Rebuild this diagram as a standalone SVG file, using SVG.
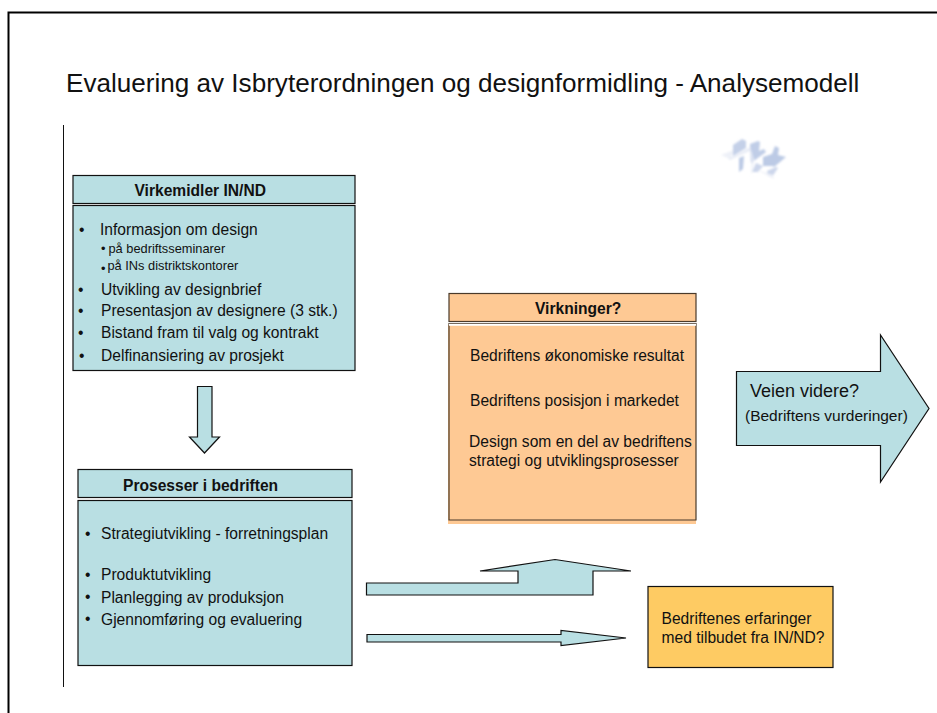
<svg xmlns="http://www.w3.org/2000/svg" width="937" height="713" viewBox="0 0 937 713">
<defs>
<style>
text{font-family:"Liberation Sans",Arial,sans-serif;fill:#111}
.t{font-size:15.6px}
.s{font-size:12.8px}
.b{font-size:15.6px;font-weight:bold}
.blue{fill:#b9dfe3;stroke:#111;stroke-width:1.2}
.orange{fill:#fec994;stroke:#4a3a2a;stroke-width:1.2}
</style>
<filter id="blur" x="-20%" y="-20%" width="140%" height="140%"><feGaussianBlur stdDeviation="0.8"/></filter>
</defs>
<rect width="937" height="713" fill="#fff"/>
<path d="M937 12.500H8.500V713" fill="none" stroke="#000" stroke-width="2"/>
<path d="M63.500 125V687" fill="none" stroke="#111" stroke-width="1"/>
<text x="66" y="92" style="font-size:26.100px">Evaluering av Isbryterordningen og designformidling - Analysemodell</text>
<g id="logo" filter="url(#blur)">
<path d="M721 155l15-6-6 10z" fill="#eef1f8"/>
<path d="M730 160l28-13-4-2-26 14z" fill="#e8ecf6"/>
<path d="M733 145l9-6 4 2v7l-13 8z" fill="#c4d0e8"/>
<path d="M750 144l8-3 2 1-1 9 5-2 2 3-15 11z" fill="#c0cde7"/>
<path d="M763 157l9-3 3-8 4 2-1 7 8 2-12 10-1-1-10 0z" fill="#bccae5"/>
<path d="M739 158l5-2-1 13-4 3z" fill="#bccae5"/>
<path d="M752 172l4-9 7 3-5 6z" fill="#ccd6eb"/>
<path d="M767 171l9-4 2 1-6 9-4-1z" fill="#ccd6eb"/>
<path d="M750 146l2 14-1 16 3-16z" fill="#e8ecf6"/>
<path d="M757 170l17 9-1-4z" fill="#eef1f8"/>
</g>
<g id="virkemidler-head"><rect class="blue" x="73" y="175.500" width="282" height="28"/><text class="b" x="134.500" y="196">Virkemidler IN/ND</text></g>
<g id="virkemidler-body"><rect class="blue" x="73" y="205.500" width="282" height="165"/>
<text class="t" x="79" y="235">•</text><text class="t" x="100" y="235">Informasjon om design</text>
<text class="s" x="101" y="253">•</text><text class="s" x="108.500" y="253">på bedriftsseminarer</text>
<text class="s" x="101" y="273">•</text><text class="s" x="107.500" y="270">på INs distriktskontorer</text>
<text class="t" x="78" y="295">•</text><text class="t" x="101" y="295">Utvikling av designbrief</text>
<text class="t" x="78" y="316">•</text><text class="t" x="101" y="316">Presentasjon av designere (3 stk.)</text>
<text class="t" x="78" y="338">•</text><text class="t" x="101" y="338">Bistand fram til valg og kontrakt</text>
<text class="t" x="79" y="361">•</text><text class="t" x="101" y="361">Delfinansiering av prosjekt</text></g>
<g id="prosesser-head"><rect class="blue" x="78" y="469.500" width="274" height="28"/><text class="b" x="123" y="491">Prosesser i bedriften</text></g>
<g id="prosesser-body"><rect class="blue" x="78" y="500.500" width="274" height="165"/>
<text class="t" x="85" y="539">•</text><text class="t" x="101" y="539">Strategiutvikling - forretningsplan</text>
<text class="t" x="85" y="580">•</text><text class="t" x="101" y="580">Produktutvikling</text>
<text class="t" x="85" y="602">•</text><text class="t" x="101" y="603">Planlegging av produksjon</text>
<text class="t" x="85" y="624">•</text><text class="t" x="101" y="624.500">Gjennomføring og evaluering</text></g>
<g id="virkninger-head"><rect class="orange" x="449" y="293.500" width="247" height="28"/><text class="b" x="535" y="314">Virkninger?</text></g>
<g id="virkninger-body"><rect x="448" y="325" width="248" height="199" fill="#fec994"/><path class="orange" d="M449 323.500H696V520H449Z"/><path d="M449 324.800H696" stroke="#fff" stroke-width="2"/>
<text class="t" x="470" y="361">Bedriftens økonomiske resultat</text>
<text class="t" x="470" y="406">Bedriftens posisjon i markedet</text>
<text class="t" x="469" y="447">Design som en del av bedriftens</text>
<text class="t" x="469" y="466">strategi og utviklingsprosesser</text></g>
<g id="veien-videre"><path class="blue" d="M736.500 371.500H880.500V335L929 408.500L880.500 482V445.500H736.500Z"/>
<text x="750" y="397" style="font-size:18px">Veien videre?</text>
<text x="745" y="421" style="font-size:15.500px">(Bedriftens vurderinger)</text></g>
<g id="erfaringer"><rect x="648" y="586.500" width="185" height="81" fill="#fecb63" stroke="#111" stroke-width="1.200"/>
<text class="t" x="661.500" y="624">Bedriftenes erfaringer</text>
<text class="t" x="661.500" y="643">med tilbudet fra IN/ND?</text></g>
<g id="connectors">
<path class="blue" d="M197.500 386.500H212V437H219.500L204.500 453L189.500 437H197.500Z"/>
<path class="blue" d="M366.500 583V595H593V571H631L555 559.500L480 571H518V583Z"/>
<path class="blue" d="M367 634.500H561V630.500L626 638L561 645.500V642H367Z"/>
</g>
</svg>
